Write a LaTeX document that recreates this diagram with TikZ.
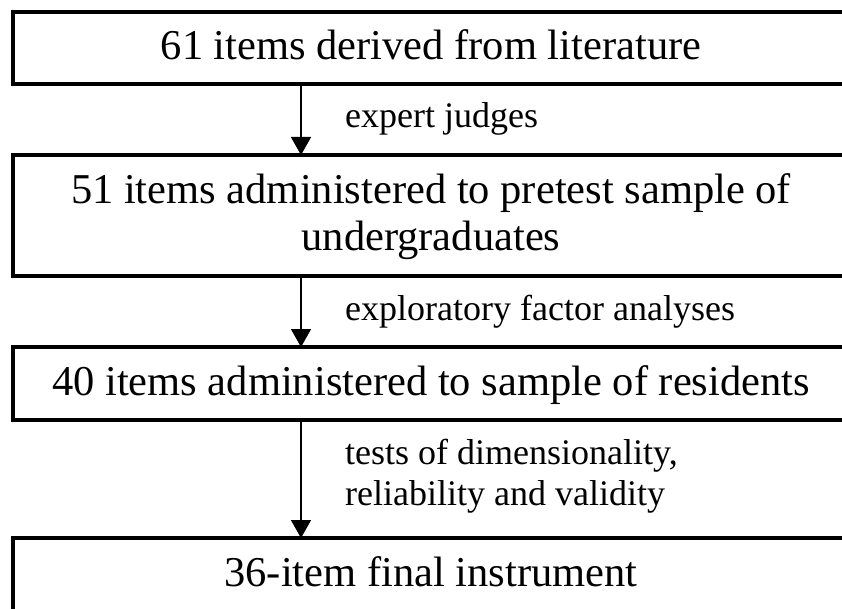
\documentclass[tikz,border=0pt]{standalone}
\usepackage{fontspec}
\setmainfont{Liberation Serif}
\usetikzlibrary{arrows.meta}
\begin{document}
\begin{tikzpicture}[x=1pt,y=-1pt,
  box/.style={draw,line width=3.5pt,minimum width=836pt,inner sep=0pt,outer sep=0pt,anchor=north west},
  main/.style={font=\fontsize{42.5}{47}\selectfont,anchor=base,inner sep=0pt,align=center},
  lab/.style={font=\fontsize{36}{41}\selectfont,anchor=base west,inner sep=0pt,align=left},
  flow/.style={line width=1.5pt,-{Triangle[length=18pt,width=20pt]}}]
\useasboundingbox (0,0) rectangle (842,609);
\node[box,minimum height=72pt]  (b1) at (13,12)  {};
\node[box,minimum height=121pt] (b2) at (13,155) {};
\node[box,minimum height=73pt]  (b3) at (13,347) {};
\node[box,minimum height=90pt]  (b4) at (13,538) {};
\node[main] (t1) at (431,60)  {61 items derived from literature};
\node[main] (t2) at (431,251) {51 items administered to pretest sample of\\undergraduates};
\node[main] (t3) at (431,395) {40 items administered to sample of residents};
\node[main] (t4) at (431,586) {36-item final instrument};
\coordinate (ax) at (301,0);
\draw[flow] (b1.south -| ax) -- (b2.north -| ax);
\draw[flow] (b2.south -| ax) -- (b3.north -| ax);
\draw[flow] (b3.south -| ax) -- (b4.north -| ax);
\node[lab] (l1) at (345,128) {expert judges};
\node[lab] (l2) at (345,320) {exploratory factor analyses};
\node[lab] (l3) at (345,505) {tests of dimensionality,\\reliability and validity};
\end{tikzpicture}
\end{document}
